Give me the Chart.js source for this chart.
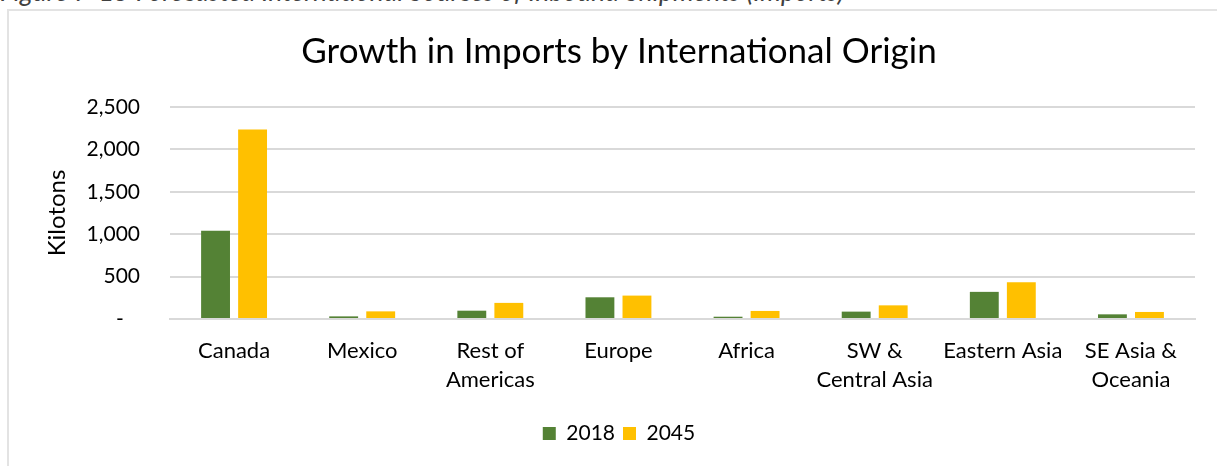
<!DOCTYPE html>
<html>
<head>
<meta charset="utf-8">
<script src="https://cdn.jsdelivr.net/npm/chart.js@4.4.1/dist/chart.umd.min.js"></script>
<style>
	html, body { margin: 0; padding: 0; background: #fff; overflow: hidden; }
	#page { position: relative; width: 1217px; height: 466px; overflow: hidden; }
	#caption {
		position: absolute; left: 0; top: -22px; white-space: nowrap; line-height: 26.5px;
		font-family: Lato, sans-serif; font-style: italic; font-size: 26.5px; color: #404040;
	}
	#frame {
		position: absolute; left: 7px; top: 9px; width: 1300px; height: 600px;
		border: 2px solid #e3e3e3; box-sizing: border-box;
	}
	#wrap { position: absolute; left: 0; top: 0; width: 1217px; height: 466px; }
</style>
</head>
<body>
<div id="page">
	<div id="caption">Figure 7-15 Forecasted International Sources of Inbound Shipments (Imports)</div>
	<div id="frame"></div>
	<div id="wrap"><canvas id="myChart"></canvas></div>
</div>
<script>
// Du lieu bieu do (kilotons)
const origins = [
	'Canada', 'Mexico', ['Rest of', 'Americas'], 'Europe', 'Africa',
	['SW &', 'Central Asia'], 'Eastern Asia', ['SE Asia &', 'Oceania']
];
const imports2018 = [1040, 31, 98, 256, 27, 87, 320, 55];
const imports2045 = [2235, 90, 190, 276, 95, 161, 434, 83];
const yTicks = [0, 500, 1000, 1500, 2000, 2500];

Chart.defaults.font.family = 'Lato, sans-serif';
Chart.defaults.color = '#000';

var ctx = document.getElementById('myChart').getContext('2d');
new Chart(ctx, {
	type: 'bar',
	data: {
		labels: origins,
		datasets: [
			{
				label: '2018',
				data: imports2018,
				backgroundColor: '#548235',
				categoryPercentage: 0.578,
				barPercentage: 0.78,
			},
			{
				label: '2045',
				data: imports2045,
				backgroundColor: '#FFC000',
				categoryPercentage: 0.578,
				barPercentage: 0.78,
			},
		],
	},
	options: {
		responsive: true,
		maintainAspectRatio: false,
		animation: false,
		layout: { padding: { left: 43, right: 22, top: 20, bottom: 12 } },
		plugins: {
			title: {
				display: true,
				text: 'Growth in Imports by International Origin',
				font: { size: 35, weight: 'normal' },
				color: '#000',
				padding: { top: 11, bottom: 34 },
			},
			legend: {
				display: true,
				position: 'bottom',
				labels: { boxWidth: 13, boxHeight: 13, font: { size: 21 }, padding: 8 },
			},
			tooltip: { enabled: false },
		},
		scales: {
			x: {
				afterFit: function(scale) { scale.height = 96; },
				grid: { display: false, drawTicks: false },
				border: { color: '#d9d9d9', width: 2 },
				ticks: { font: { size: 22, lineHeight: 1.3 }, padding: 18, maxRotation: 0, autoSkip: false },
			},
			y: {
				min: 0,
				max: 2500,
				afterBuildTicks: function(scale) {
					scale.ticks = yTicks.map(v => ({ value: v }));
				},
				afterFit: function(scale) { scale.width = 127; },
				grid: { color: '#d9d9d9', lineWidth: 2, drawTicks: false },
				border: { display: false },
				ticks: {
					font: { size: 21 },
					padding: 30,
					callback: function(v) { return v === 0 ? '-   ' : v.toLocaleString('en-US'); },
				},
				title: {
					display: true,
					text: 'Kilotons',
					font: { size: 24 },
					padding: 0,
				},
			},
		},
	},
});
</script>
</body>
</html>
